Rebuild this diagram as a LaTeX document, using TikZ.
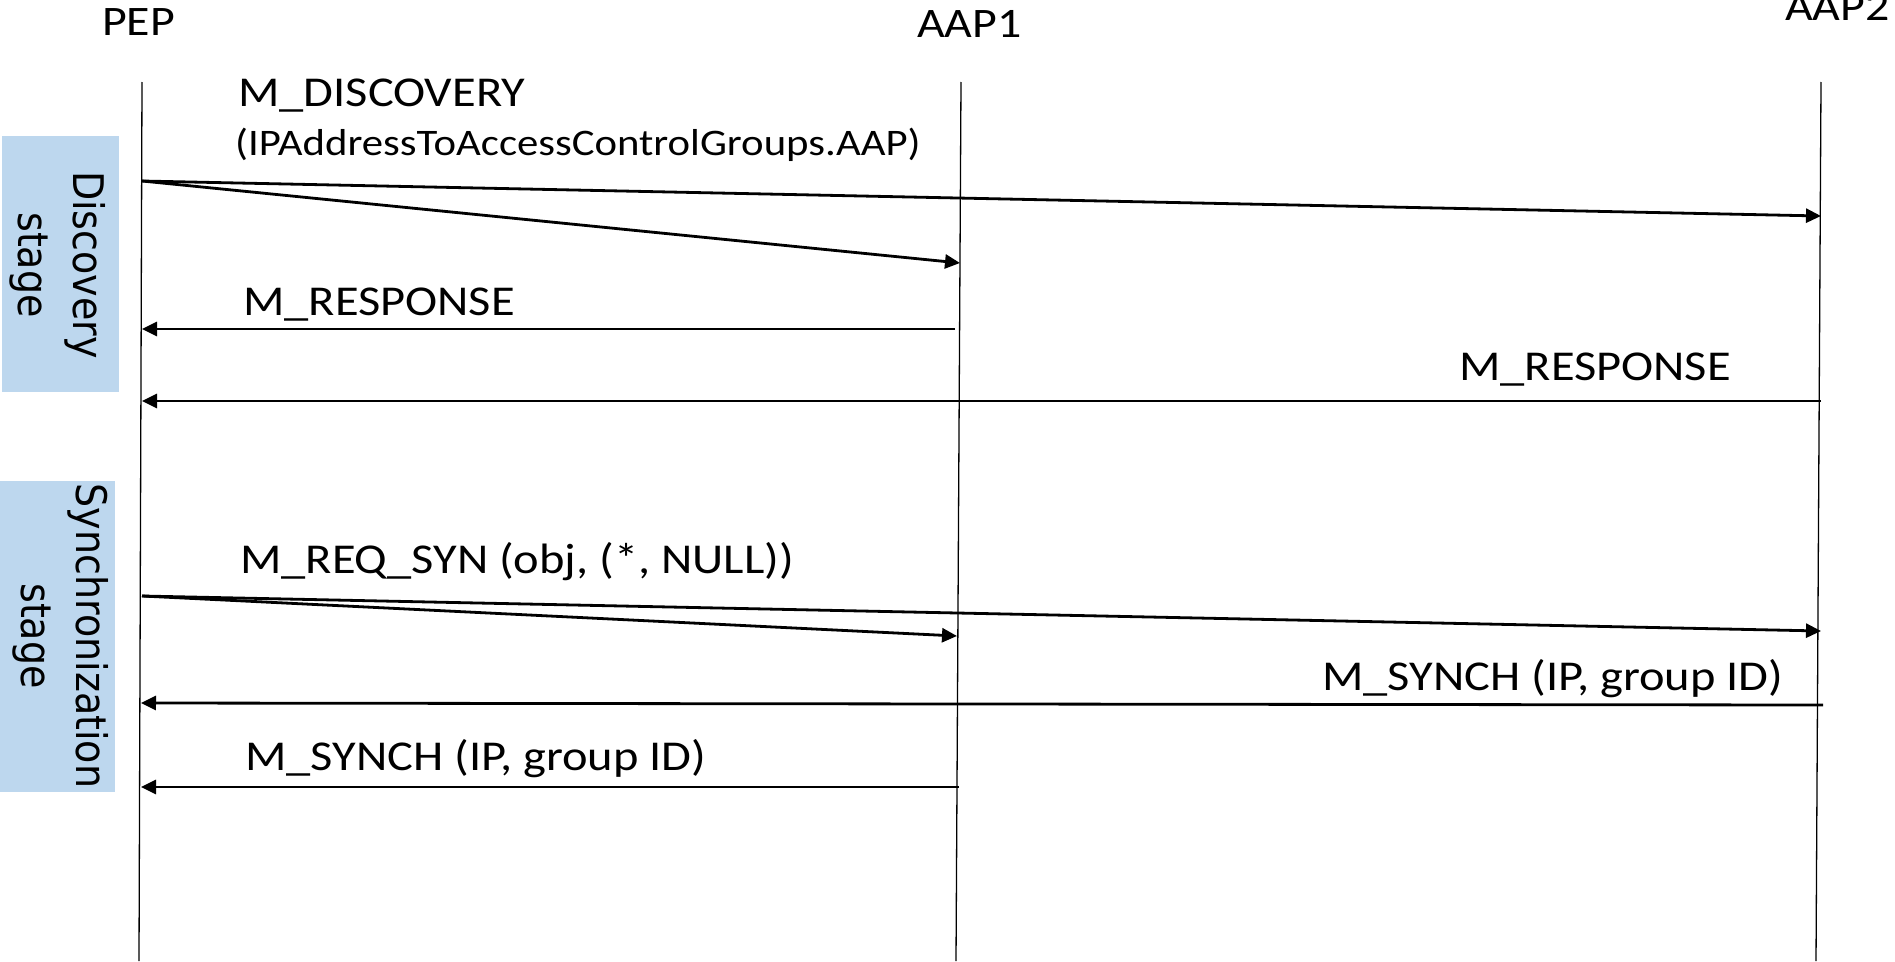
\documentclass[tikz,border=0pt]{standalone}
\usepackage{fontspec}
\usepackage{graphicx}
\setmainfont{Carlito}[FakeStretch=1.14]
\newfontfamily\stagefont{DejaVu Sans}
\usetikzlibrary{arrows.meta}
\definecolor{stageblue}{HTML}{BDD7EE}
\tikzset{
  lifeline/.style={line width=1.3pt, draw=black},
  msg/.style={line width=2.8pt, draw=black, -{Triangle[length=15pt,width=14pt]}},
  actor/.style={anchor=base west, inner sep=0pt, font=\fontsize{42}{51}\selectfont},
  lbl/.style={anchor=base west, inner sep=0pt, font=\fontsize{42.5}{51}\selectfont},
  sublbl/.style={anchor=base west, inner sep=0pt, font=\fontsize{37.5}{44}\selectfont},
  stagebox/.style={fill=stageblue, inner sep=0pt},
  stagetext/.style={rotate=-90, inner sep=0pt, font=\stagefont\fontsize{38}{49.5}\selectfont}
}
\newcommand{\stagelines}[2]{\scalebox{1}[1.11]{\begin{tabular}{@{}c@{}}#1\\#2\end{tabular}}}
\begin{document}
\begin{tikzpicture}[x=1pt, y=-1pt]
\useasboundingbox (0,0) rectangle (1895,961);
\clip (0,0) rectangle (1895,961);

% stage boxes
\node[stagebox, minimum width=117pt, minimum height=256pt] (discbox) at (60.5,264) {};
\node[stagetext] (disctext) at (57,265) {\stagelines{Discovery}{stage}};
\node[stagebox, minimum width=115pt, minimum height=311pt] (syncbox) at (57.5,636.5) {};
\node[stagetext] (synctext) at (60,636) {\stagelines{Synchronization}{stage}};

% actors
\node[actor] (pep) at (102,35) {PEP};
\node[actor] (aap1) at (917,37) {AAP1};
\node[actor] (aap2) at (1785,20) {AAP2};

% lifelines
\coordinate (pepT) at (142,82);  \coordinate (pepB) at (139,961);
\coordinate (a1T) at (961,82);   \coordinate (a1B) at (956,961);
\coordinate (a2T) at (1821,82);  \coordinate (a2B) at (1816,961);
\draw[lifeline] (pepT) -- (pepB);
\draw[lifeline] (a1T) -- (a1B);
\draw[lifeline] (a2T) -- (a2B);

% message end points
\coordinate (d0) at (142,181);
\coordinate (d2) at (1821,216);
\coordinate (d1) at (960,263);
\coordinate (r1s) at (955,329);  \coordinate (r1e) at (142,329);
\coordinate (r2s) at (1821,401); \coordinate (r2e) at (142,401);
\coordinate (s0) at (142,596);
\coordinate (s2) at (1821,631);
\coordinate (s1) at (957,636);
\coordinate (y2s) at (1823,705); \coordinate (y2e) at (141,703);
\coordinate (y1s) at (959,787);  \coordinate (y1e) at (141,787);

\draw[msg] (d0) -- (d2);
\draw[msg] (d0) -- (d1);
\draw[msg] (r1s) -- (r1e);
\draw[msg] (r2s) -- (r2e);
\draw[msg] (s0) -- (s2);
\draw[msg] (s0) -- (s1);
\draw[msg] (y2s) -- (y2e);
\draw[msg] (y1s) -- (y1e);

% labels
\node[lbl] (ldisc) at (238,106) {M\_DISCOVERY};
\node[sublbl] (ldisc2) at (235,155) {(IPAddressToAccessControlGroups.AAP)};
\node[lbl] (lresp1) at (243,315) {M\_RESPONSE};
\node[lbl] (lresp2) at (1459,380) {M\_RESPONSE};
\node[lbl] (lreq) at (240,573) {M\_REQ\_SYN (obj, (*, NULL))};
\node[lbl] (lsyn2) at (1322,690) {M\_SYNCH (IP, group ID)};
\node[lbl] (lsyn1) at (245,770) {M\_SYNCH (IP, group ID)};
\end{tikzpicture}
\end{document}
